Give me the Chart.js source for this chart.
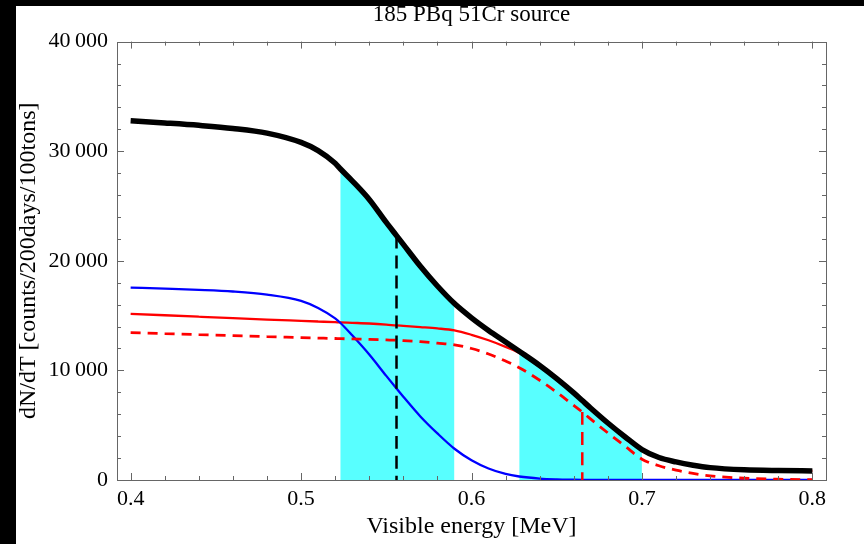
<!DOCTYPE html>
<html lang="en">
<head>
<meta charset="utf-8">
<title>185 PBq 51Cr source</title>
<script src="https://cdn.jsdelivr.net/npm/chart.js@4.4.1/dist/chart.umd.min.js"></script>
<style>
  html, body { margin: 0; padding: 0; background: #fff; overflow: hidden; width: 864px; height: 544px; }
  canvas { display: block; position: fixed; left: 0; top: 0; }
</style>
</head>
<body>
<canvas id="spectre" width="864" height="544"></canvas>
<script>
// energy grid [MeV]
const energy = [0.40, 0.42, 0.44, 0.46, 0.48, 0.50, 0.51, 0.52, 0.523, 0.53, 0.54, 0.55, 0.556, 0.56, 0.57, 0.58, 0.59,
                0.60, 0.61, 0.62, 0.628, 0.64, 0.65, 0.66, 0.665, 0.67, 0.68, 0.69, 0.70, 0.71, 0.72, 0.73, 0.74, 0.76, 0.78, 0.80];

// dN/dT, counts/200days/100tons
const total    = [32780, 32580, 32360, 32080, 31650, 30800, 30050, 28900, 28400, 27300, 25600, 23500, 22300, 21500, 19500, 17700, 16100,
                  14800, 13650, 12600, 11750, 10450, 9250, 7950, 7250, 6550, 5200, 3950, 2780, 2050, 1650, 1350, 1130, 930, 860, 830];
const blueComp = [17560, 17460, 17350, 17200, 16920, 16350, 15700, 14750, 14350, 13200, 11450, 9500, 8350, 7600, 5800, 4250, 2850,
                  1800, 1050, 550, 320, 130, 60, 30, 20, 15, 8, 5, 3, 2, 1, 0, 0, 0, 0, 0];
const redSolid = [15160, 15030, 14900, 14770, 14640, 14520, 14460, 14400, 14380, 14340, 14280, 14180, 14100, 14060, 13950, 13830, 13650,
                  13250, 12750, 12150, 11600, 10320, 9190, 7920, 7230, 6535, 5190, 3945, 2777, 2048, 1649, 1350, 1130, 930, 860, 830];
const redDashed = [13450, 13360, 13270, 13180, 13080, 12990, 12950, 12910, 12900, 12870, 12830, 12780, 12750, 12720, 12620, 12480, 12330,
                   12000, 11500, 10850, 10250, 9100, 8000, 6800, 6200, 5550, 4300, 3100, 1900, 1300, 900, 600, 380, 160, 70, 30];

// shaded windows and markers
const windows = [[0.523, 0.59], [0.628, 0.70]];
const markerBlack = 0.556;
const markerRed = 0.665;

const xTicks = [0.4, 0.5, 0.6, 0.7, 0.8];
const xTickLabels = ['0.4', '0.5', '0.6', '0.7', '0.8'];
const yTicks = [0, 10000, 20000, 30000, 40000];
const yTickLabels = ['0', '10\u2009000', '20\u2009000', '30\u2009000', '40\u2009000'];

const serif = 'Liberation Serif, Times New Roman, serif';

function points(vals) {
  return energy.map((e, i) => ({x: e, y: vals[i]}));
}

function windowPoints(lo, hi) {
  return points(total).filter(p => p.x >= lo - 1e-9 && p.x <= hi + 1e-9);
}

// drawn from the curve down to the axis so the dashes start at the curve
function markerLine(e, vals) {
  const i = energy.indexOf(e);
  return [{x: e, y: vals[i]}, {x: e, y: 0}];
}

// white page with the black strips at top and left
const fond = {
  id: 'fond',
  beforeDraw(chart) {
    const c = chart.ctx;
    c.save();
    c.fillStyle = '#fff';
    c.fillRect(0, 0, chart.width, chart.height);
    c.fillStyle = '#000';
    c.fillRect(0, 0, chart.width, 6);
    c.fillRect(0, 0, 16, chart.height);
    c.restore();
  }
};

// frame with inward ticks, on all four sides
const cadre = {
  id: 'cadre',
  afterDatasetsDraw(chart) {
    const {ctx, chartArea: a, scales: {x, y}} = chart;
    ctx.save();
    ctx.strokeStyle = '#666';
    ctx.lineWidth = 1;
    ctx.strokeRect(Math.round(a.left) + 0.5, Math.round(a.top) + 0.5,
                   Math.round(a.right - a.left), Math.round(a.bottom - a.top));
    ctx.beginPath();
    for (let i = 0; i <= 20; i++) {
      const px = Math.round(x.getPixelForValue(0.4 + i * 0.02)) + 0.5;
      const len = i % 5 === 0 ? 7 : 4;
      ctx.moveTo(px, a.bottom); ctx.lineTo(px, a.bottom - len);
      ctx.moveTo(px, a.top); ctx.lineTo(px, a.top + len);
    }
    for (let i = 0; i <= 20; i++) {
      const py = Math.round(y.getPixelForValue(i * 2000)) + 0.5;
      const len = i % 5 === 0 ? 7 : 4;
      ctx.moveTo(a.left, py); ctx.lineTo(a.left + len, py);
      ctx.moveTo(a.right, py); ctx.lineTo(a.right - len, py);
    }
    ctx.stroke();
    ctx.restore();
  }
};

const datasets = [];
windows.forEach(w => {
  datasets.push({
    data: windowPoints(w[0], w[1]),
    fill: 'origin',
    backgroundColor: '#58FFFF',
    borderWidth: 0,
    order: 10
  });
});
datasets.push({data: points(blueComp), borderColor: '#0000FF', borderWidth: 2.3, order: 5});
datasets.push({data: points(redSolid), borderColor: '#FF0000', borderWidth: 2.3, order: 5});
datasets.push({data: points(redDashed), borderColor: '#FF0000', borderWidth: 2.8, borderDash: [10, 7], order: 4});
datasets.push({data: markerLine(markerBlack, total), borderColor: '#000', borderWidth: 2.5, borderDash: [13, 7], order: 3});
datasets.push({data: markerLine(markerRed, redDashed), borderColor: '#FF0000', borderWidth: 2.5, borderDash: [13, 7], order: 3});
datasets.push({data: points(total), borderColor: '#000', borderWidth: 5.5, order: 1});

new Chart(document.getElementById('spectre'), {
  type: 'line',
  data: {datasets: datasets},
  options: {
    responsive: false,
    devicePixelRatio: 1,
    animation: false,
    elements: {
      point: {radius: 0},
      line: {cubicInterpolationMode: 'monotone', fill: false}
    },
    layout: {padding: {left: 0, right: 38, top: 0, bottom: 0}},
    plugins: {
      legend: {display: false},
      tooltip: {enabled: false},
      title: {
        display: true,
        text: '185 PBq 51Cr source',
        fullSize: false,
        color: '#000',
        font: {family: serif, size: 23, weight: 'normal'},
        padding: {top: 1, bottom: 13}
      }
    },
    scales: {
      x: {
        type: 'linear',
        min: 0.392,
        max: 0.808,
        grid: {display: false, drawTicks: false},
        border: {display: false},
        afterBuildTicks: s => { s.ticks = xTicks.map(v => ({value: v})); },
        afterFit: s => { s.height = 64; },
        ticks: {
          color: '#000',
          autoSkip: false,
          maxRotation: 0,
          padding: 6,
          font: {family: serif, size: 22},
          callback: (v, i) => xTickLabels[i]
        },
        title: {
          display: true,
          text: 'Visible energy [MeV]',
          color: '#000',
          font: {family: serif, size: 24},
          padding: {top: 0, bottom: 3}
        }
      },
      y: {
        min: 0,
        max: 40000,
        grid: {display: false, drawTicks: false},
        border: {display: false},
        afterBuildTicks: s => { s.ticks = yTicks.map(v => ({value: v})); },
        afterFit: s => { s.width = 117; },
        ticks: {
          color: '#000',
          padding: 9,
          font: {family: serif, size: 22},
          callback: (v, i) => yTickLabels[i]
        },
        title: {
          display: true,
          text: 'dN/dT [counts/200days/100tons]',
          color: '#000',
          font: {family: serif, size: 24},
          padding: {top: 14, bottom: 0}
        }
      }
    }
  },
  plugins: [fond, cadre]
});
</script>
</body>
</html>
